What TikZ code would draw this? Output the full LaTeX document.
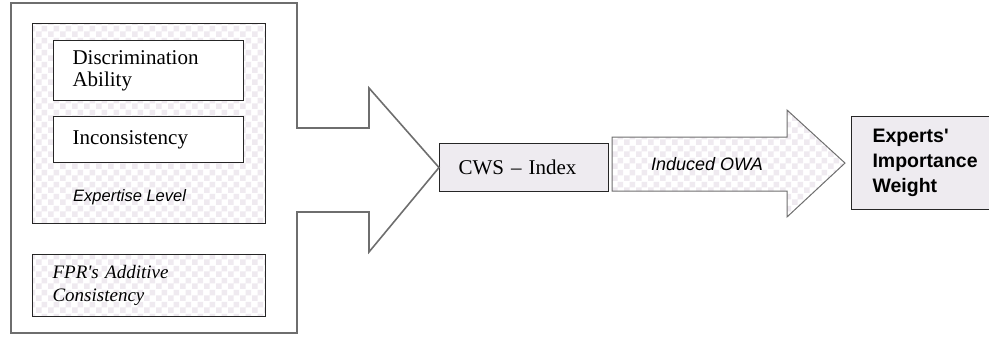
\documentclass[tikz,border=0pt]{standalone}
\usepackage{fontspec}
\setmainfont{Liberation Serif}
\setsansfont{Liberation Sans}
\usetikzlibrary{positioning,patterns}
\definecolor{chk}{RGB}{239,234,240}
\definecolor{cwsfill}{RGB}{238,235,240}
\definecolor{framegray}{RGB}{110,110,110}
\pgfdeclarepatternformonly{bigchecker}{\pgfpointorigin}{\pgfqpoint{12pt}{12pt}}{\pgfqpoint{12pt}{12pt}}{
  \pgfpathrectangle{\pgfpointorigin}{\pgfqpoint{6pt}{6pt}}
  \pgfpathrectangle{\pgfqpoint{6pt}{6pt}}{\pgfqpoint{6pt}{6pt}}
  \pgfusepath{fill}}
\tikzset{
  frame/.style={draw=framegray, line width=1.6pt, line join=miter},
  box/.style={rectangle, draw=black!85, line width=1.1pt, inner sep=0pt, anchor=north west},
  checker/.style={preaction={fill=white}, pattern=bigchecker, pattern color=chk},
  serif/.style={font=\fontsize{21}{22}\selectfont, align=left},
  slant/.style={font=\sffamily\itshape\fontsize{16.5}{18}\selectfont},
  result/.style={font=\sffamily\bfseries\fontsize{19.5}{25}\selectfont, align=left},
}

\begin{document}
\begin{tikzpicture}[x=1pt, y=-1pt]
\useasboundingbox (0,0) rectangle (989,337);
%Nodes
\node[box, checker, minimum width=233pt, minimum height=200pt] (expertise) at (32,23) {};
\node[box, fill=white, serif, minimum width=190pt, minimum height=60pt, text width=152pt, inner xsep=19pt] (discrim) at (53,40) {Discrimination\\Ability};
\node[box, fill=white, serif, minimum width=190pt, minimum height=46pt, text width=152pt, inner xsep=19pt] (incons) at (53,116) {Inconsistency};
\node[slant, anchor=west, inner sep=0pt] (explevel) at (73,197) {Expertise Level};
\node[box, checker, minimum width=233pt, minimum height=62pt, text width=193pt, inner xsep=20pt,
      font=\itshape\fontsize{19}{23}\selectfont, align=left] (fpr) at (32,254) {FPR\textquotesingle s Additive\\Consistency};
\node[box, fill=cwsfill, serif, minimum width=169pt, minimum height=48pt, text width=131pt, inner xsep=19pt] (cws) at (439,143) {CWS -- Index};
\node[box, fill=cwsfill, result, minimum width=150pt, minimum height=93pt, text width=120pt, inner xsep=21pt] (experts) at (851,116) {Experts\textquotesingle\\Importance\\Weight};

%Shapes
\draw[frame] (297,3) -- (11,3) -- (11,333) -- (297,333) -- (297,212) -- (369,212) -- (369,252)
  -- (cws.west) -- (369,88) -- (369,128) -- (297,128) -- cycle;
\coordinate (owatip) at ([xshift=-6pt]experts.west);
\draw[checker, draw=framegray, line width=1pt] (612,137) -- (787,137) -- (787,110) -- (owatip)
  -- (787,217) -- (787,191) -- (612,191) -- cycle;
\node[slant, font=\sffamily\itshape\fontsize{18}{20}\selectfont] (owa) at (707,164) {Induced OWA};
\end{tikzpicture}
\end{document}
